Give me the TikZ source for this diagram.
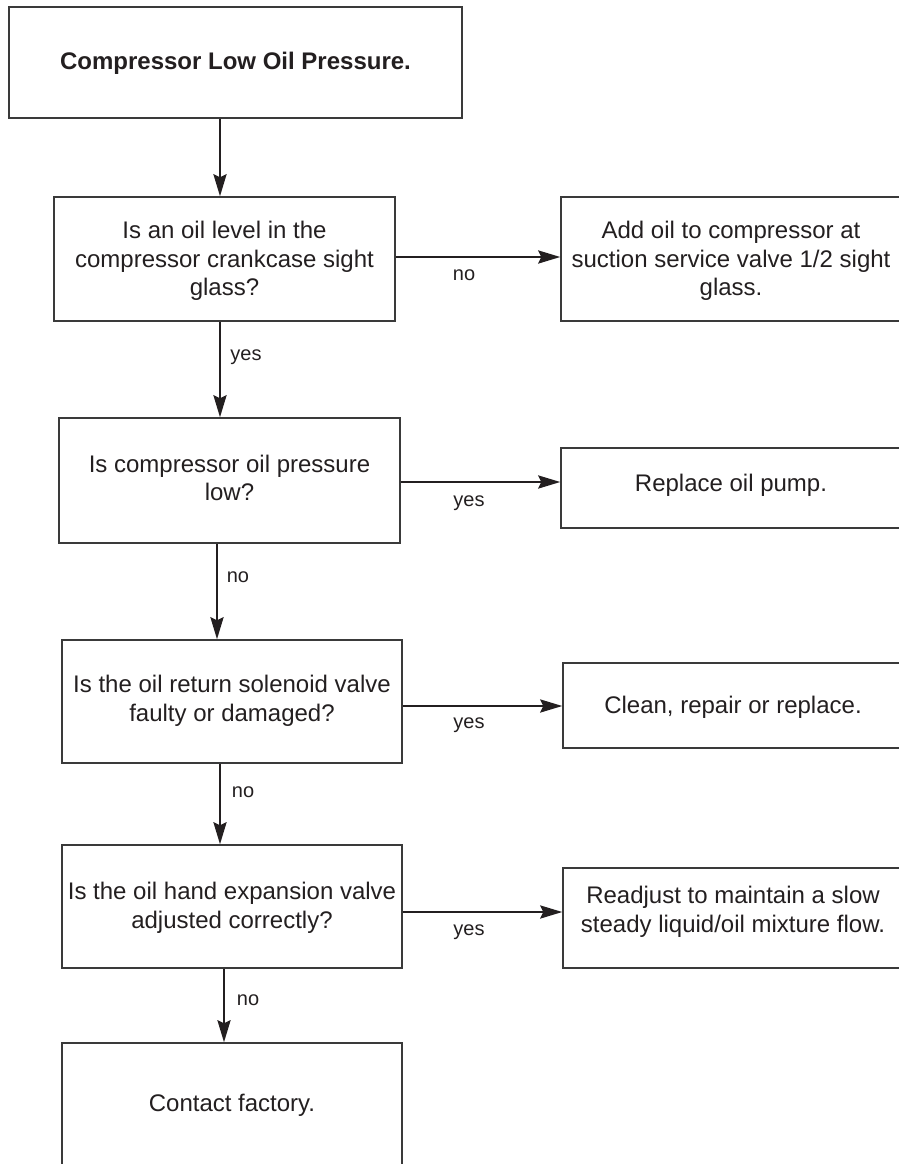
\documentclass[tikz,border=0pt]{standalone}
\usepackage{fontspec}
\setmainfont{Liberation Sans}
\usetikzlibrary{arrows.meta}
\definecolor{ink}{HTML}{231F20}
\definecolor{boxline}{HTML}{3A3A3A}
\begin{document}
\begin{tikzpicture}[x=1pt,y=-1pt,
  box/.style={draw=boxline, line width=1.4pt, inner sep=0pt},
  txt/.style={align=center, text=ink, inner sep=0pt, font=\fontsize{24}{28.5}\selectfont},
  lbl/.style={text=ink, inner sep=0pt, font=\fontsize{20}{24}\selectfont},
  arr/.style={draw=ink, line width=2.6pt, -{Stealth[length=22pt,width=13pt,inset=3pt]}}]
\useasboundingbox (0,0) rectangle (899,1164);
\clip (0,0) rectangle (899,1164);

% left column: question boxes
\node[box, minimum width=453pt, minimum height=111pt] (start) at (235.5,62.5) {};
\node[txt, font=\fontsize{24}{28.5}\selectfont\bfseries] (startT) at (235.5,63) {Compressor Low Oil Pressure.};

\node[box, minimum width=341pt, minimum height=124pt] (q1) at (224.5,259) {};
\node[txt] (q1T) at (224.5,261) {Is an oil level in the\\compressor crankcase sight\\glass?};

\node[box, minimum width=341pt, minimum height=125pt] (q2) at (229.5,480.5) {};
\node[txt] (q2T) at (229.5,478) {Is compressor oil pressure\\low?};

\node[box, minimum width=340pt, minimum height=123pt] (q3) at (232,701.5) {};
\node[txt] (q3T) at (232,701) {Is the oil return solenoid valve\\faulty or damaged?};

\node[box, minimum width=340pt, minimum height=123pt] (q4) at (232,906.5) {};
\node[txt] (q4T) at (232,908) {Is the oil hand expansion valve\\adjusted correctly?};

\node[box, minimum width=340pt, minimum height=126pt] (end) at (232,1106) {};
\node[txt] (endT) at (232,1105) {Contact factory.};

% right column: actions
\node[box, minimum width=340pt, minimum height=124pt] (a1) at (731,259) {};
\node[txt] (a1T) at (731,261) {Add oil to compressor at\\suction service valve 1/2 sight\\glass.};

\node[box, minimum width=340pt, minimum height=80pt] (a2) at (731,488) {};
\node[txt] (a2T) at (731,485) {Replace oil pump.};

\node[box, minimum width=340pt, minimum height=85pt] (a3) at (733,705.5) {};
\node[txt] (a3T) at (733,707) {Clean, repair or replace.};

\node[box, minimum width=340pt, minimum height=100pt] (a4) at (733,918) {};
\node[txt] (a4T) at (733,912) {Readjust to maintain a slow\\steady liquid/oil mixture flow.};

% vertical connectors
\draw[arr] (220,0 |- start.south) -- (220,0 |- q1.north);
\draw[arr] (220,0 |- q1.south) -- (220,0 |- q2.north);
\draw[arr] (217,0 |- q2.south) -- (217,0 |- q3.north);
\draw[arr] (220,0 |- q3.south) -- (220,0 |- q4.north);
\draw[arr] (224,0 |- q4.south) -- (224,0 |- end.north);

% horizontal connectors
\draw[arr] (q1.east |- 0,257) -- (a1.west |- 0,257);
\draw[arr] (q2.east |- 0,482) -- (a2.west |- 0,482);
\draw[arr] (q3.east |- 0,706) -- (a3.west |- 0,706);
\draw[arr] (q4.east |- 0,912) -- (a4.west |- 0,912);

% branch labels
\node[lbl] (l1) at (464,275) {no};
\node[lbl] (l2) at (246,357) {yes};
\node[lbl] (l3) at (469,503) {yes};
\node[lbl] (l4) at (238,577) {no};
\node[lbl] (l5) at (469,725) {yes};
\node[lbl] (l6) at (243,792) {no};
\node[lbl] (l7) at (469,932) {yes};
\node[lbl] (l8) at (248,1000) {no};
\end{tikzpicture}
\end{document}
